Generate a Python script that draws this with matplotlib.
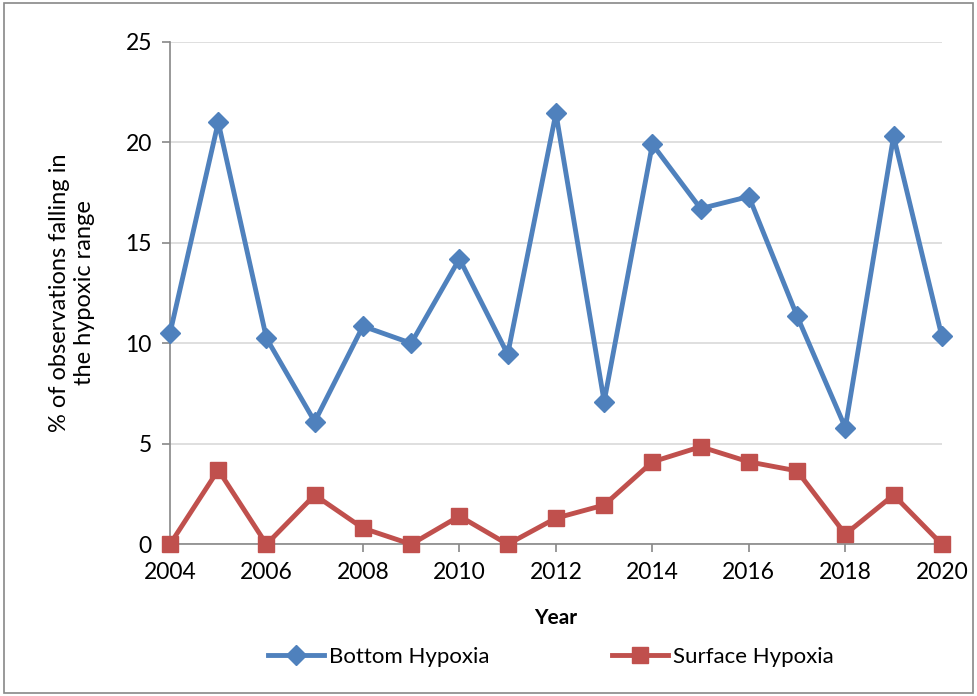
import matplotlib
matplotlib.use("Agg")
import matplotlib.pyplot as plt
from matplotlib.patches import Rectangle

years = list(range(2004, 2021))
bottom = [10.5, 21.0, 10.25, 6.1, 10.85, 10.0, 14.2, 9.45, 21.45, 7.1, 19.9, 16.7, 17.3, 11.35, 5.8, 20.3, 10.35]
surface = [0.0, 3.7, 0.0, 2.45, 0.8, 0.0, 1.4, 0.0, 1.3, 1.95, 4.1, 4.85, 4.1, 3.65, 0.5, 2.45, 0.0]
xticks = list(range(2004, 2021, 2))
yticks = [0, 5, 10, 15, 20, 25]

plt.rcParams['font.family'] = ['Lato', 'DejaVu Sans']

fig = plt.figure(figsize=(9.77, 6.96), dpi=100)
ax = fig.add_axes([0.174, 0.218, 0.790, 0.722])

blue = '#4F81BD'
red = '#C0504D'
ax.plot(years, bottom, color=blue, lw=3.5, marker='D', ms=10, label='Bottom Hypoxia', zorder=3, clip_on=False)
ax.plot(years, surface, color=red, lw=3.5, marker='s', ms=12, label='Surface Hypoxia', zorder=3, clip_on=False)

ax.set_xlim(2004, 2020)
ax.set_ylim(0, 25)
ax.set_xticks(xticks)
ax.set_yticks(yticks)
ax.grid(axis='y', color='#D9D9D9', lw=1.2)
ax.set_axisbelow(True)
for s in ['top', 'right']:
    ax.spines[s].set_visible(False)
for s in ['left', 'bottom']:
    ax.spines[s].set_color('#888888')
    ax.spines[s].set_linewidth(1.2)
ax.tick_params(axis='both', direction='out', color='#888888', length=6, width=1.2, labelsize=16.5, pad=7)
ax.set_xlabel('Year', fontsize=15, fontweight='bold', labelpad=18)
ax.set_ylabel('% of observations falling in\nthe hypoxic range', fontsize=17, labelpad=22)

leg = fig.legend(loc='center', bbox_to_anchor=(0.564, 0.056), ncol=2, frameon=False, fontsize=16,
                 handlelength=2.5, columnspacing=5.5, handletextpad=0.25)

fig.patches.append(Rectangle((0.004, 0.004), 0.992, 0.992, transform=fig.transFigure,
                             fill=False, edgecolor='#888888', lw=1.2))

fig.savefig('out.png', dpi=100)
